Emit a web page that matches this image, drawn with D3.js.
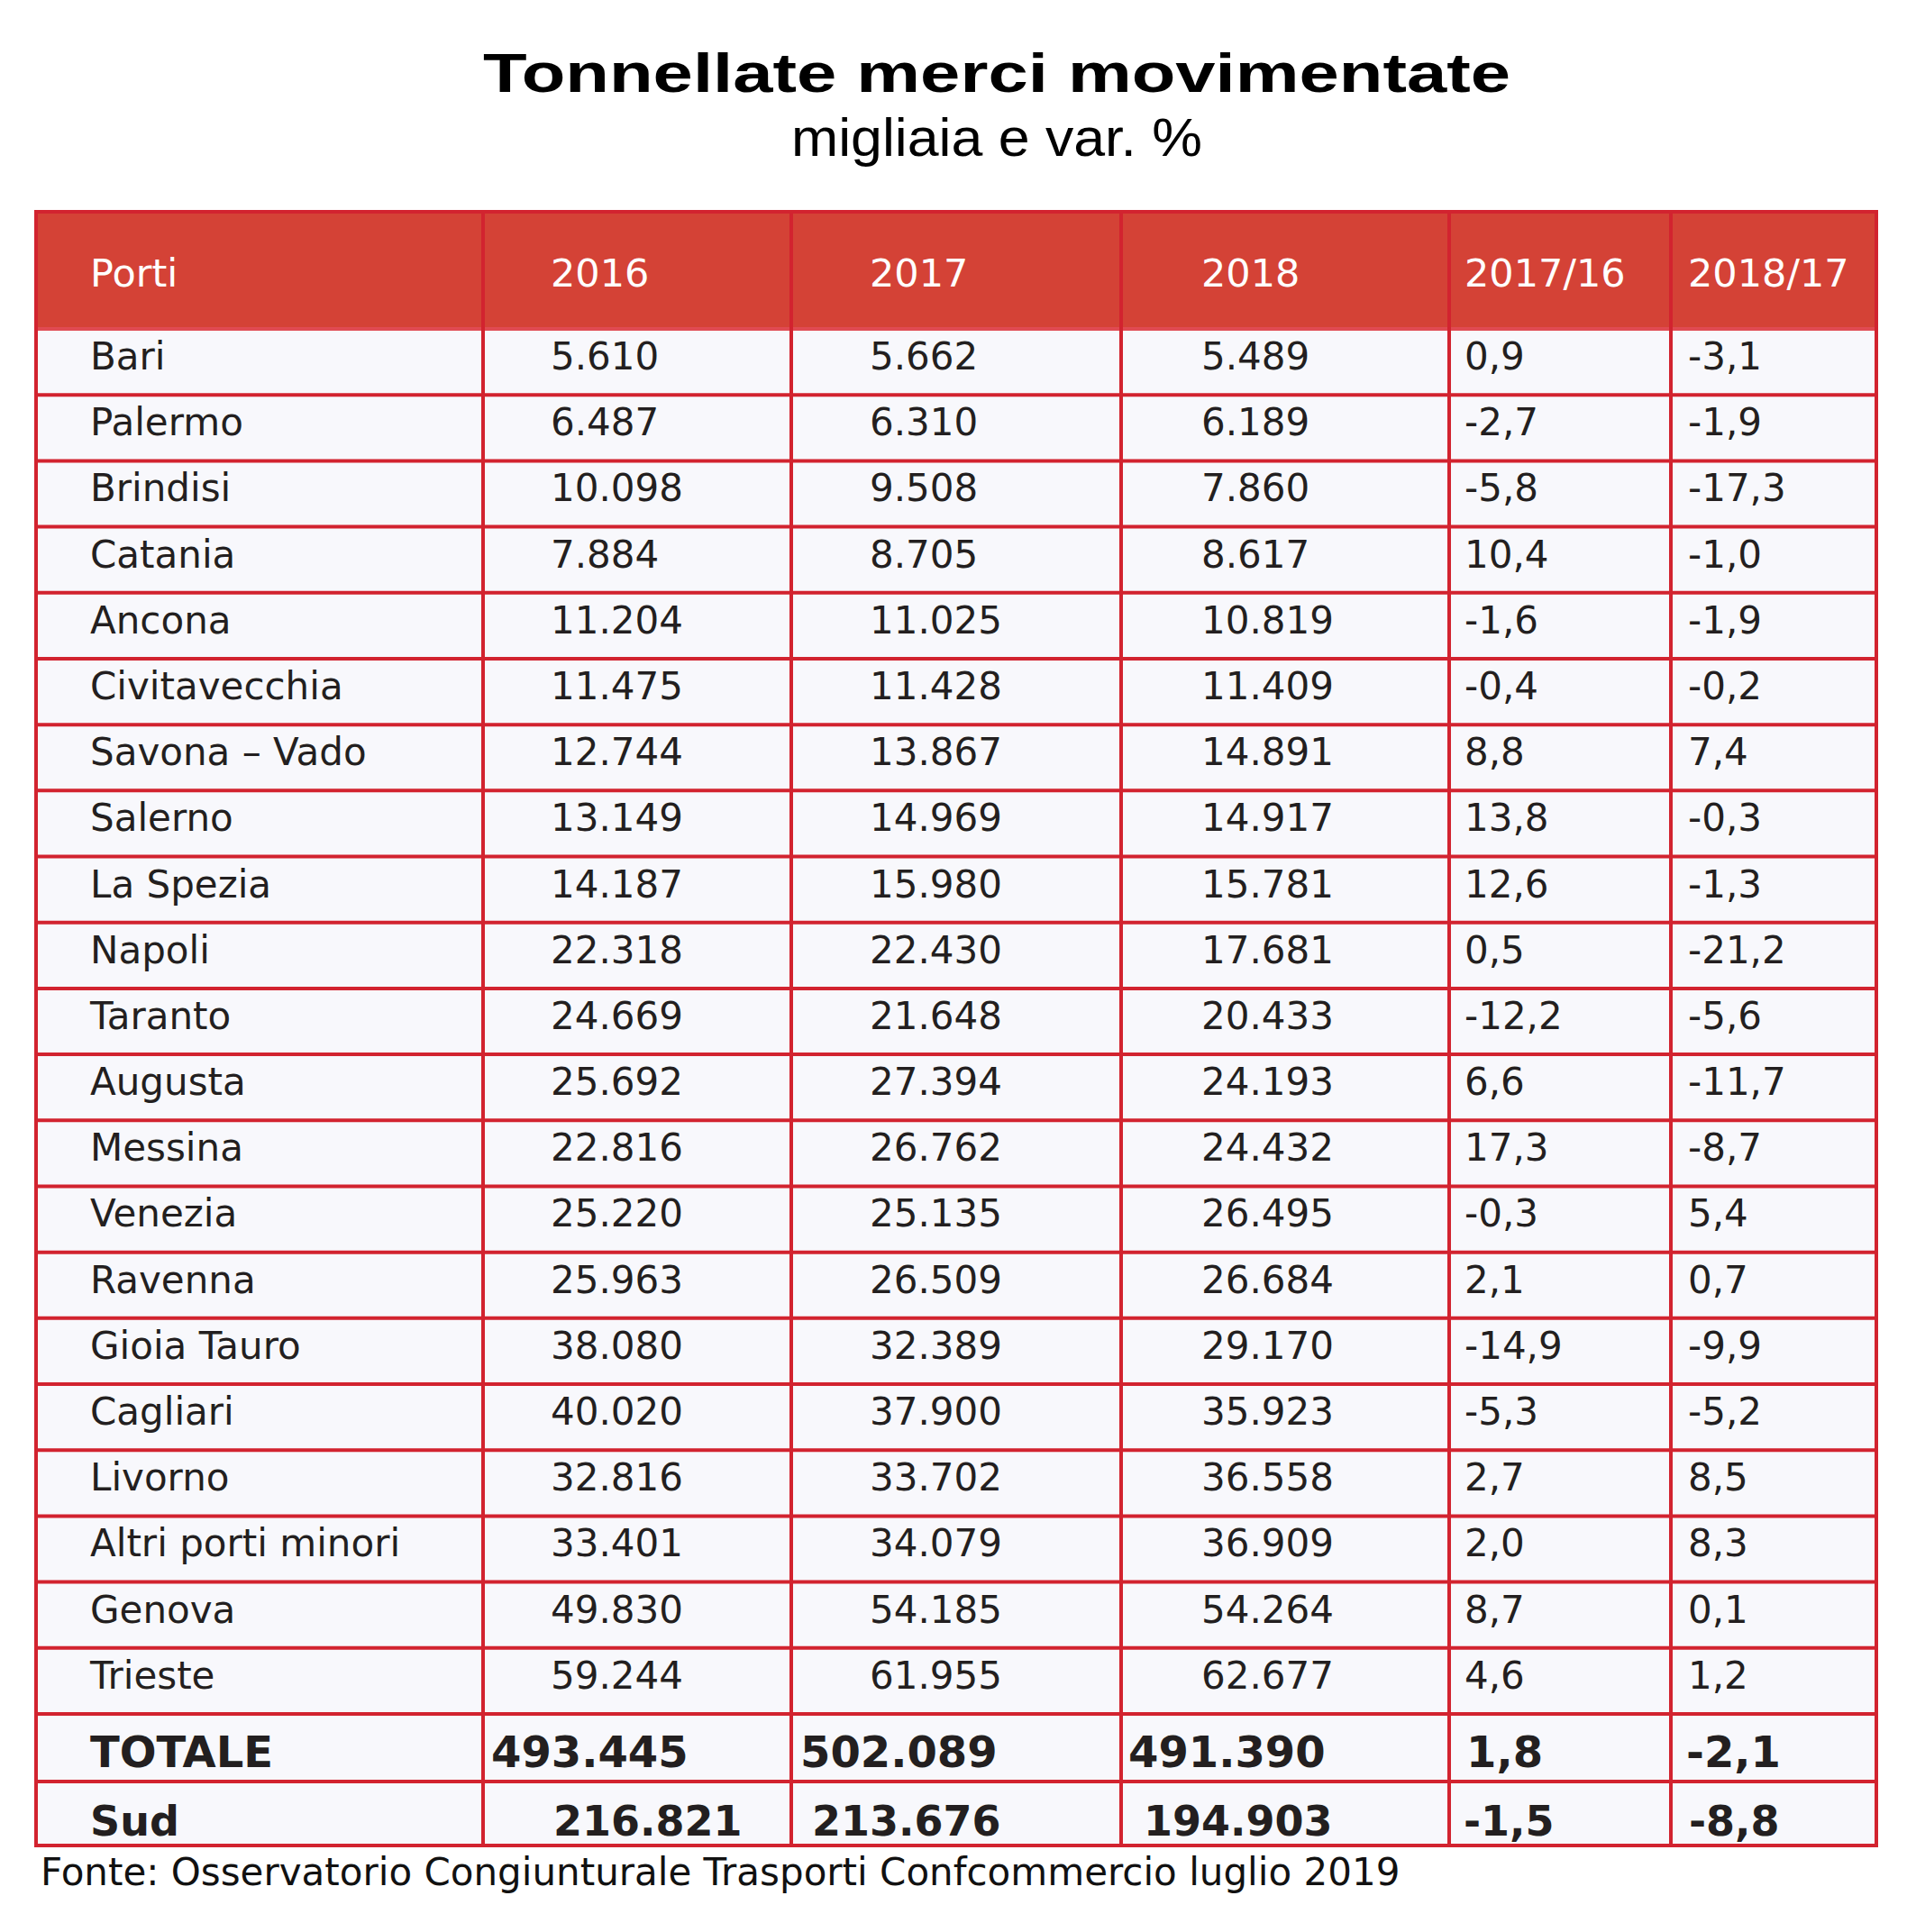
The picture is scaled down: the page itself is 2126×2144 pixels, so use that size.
<!DOCTYPE html>
<html>
<head>
<meta charset="utf-8">
<script src="https://cdn.jsdelivr.net/npm/d3@7"></script>
<style>
  html, body { margin: 0; padding: 0; background: #ffffff; }
  svg { display: block; }
</style>
</head>
<body>
<svg id="chart" width="2126" height="2144"></svg>
<script>
// ---------------- DATA ----------------
const columns = ["Porti", "2016", "2017", "2018", "2017/16", "2018/17"];
const ports = ["Bari", "Palermo", "Brindisi", "Catania", "Ancona", "Civitavecchia",
  "Savona – Vado", "Salerno", "La Spezia", "Napoli", "Taranto", "Augusta", "Messina",
  "Venezia", "Ravenna", "Gioia Tauro", "Cagliari", "Livorno", "Altri porti minori",
  "Genova", "Trieste"];
const tons2016 = [5610, 6487, 10098, 7884, 11204, 11475, 12744, 13149, 14187, 22318,
  24669, 25692, 22816, 25220, 25963, 38080, 40020, 32816, 33401, 49830, 59244];
const tons2017 = [5662, 6310, 9508, 8705, 11025, 11428, 13867, 14969, 15980, 22430,
  21648, 27394, 26762, 25135, 26509, 32389, 37900, 33702, 34079, 54185, 61955];
const tons2018 = [5489, 6189, 7860, 8617, 10819, 11409, 14891, 14917, 15781, 17681,
  20433, 24193, 24432, 26495, 26684, 29170, 35923, 36558, 36909, 54264, 62677];
const var1716 = [0.9, -2.7, -5.8, 10.4, -1.6, -0.4, 8.8, 13.8, 12.6, 0.5, -12.2, 6.6,
  17.3, -0.3, 2.1, -14.9, -5.3, 2.7, 2.0, 8.7, 4.6];
const var1817 = [-3.1, -1.9, -17.3, -1.0, -1.9, -0.2, 7.4, -0.3, -1.3, -21.2, -5.6,
  -11.7, -8.7, 5.4, 0.7, -9.9, -5.2, 8.5, 8.3, 0.1, 1.2];
const summaryLabels = ["TOTALE", "Sud"];
const summary2016 = [493445, 216821];
const summary2017 = [502089, 213676];
const summary2018 = [491390, 194903];
const summaryVar1716 = [1.8, -1.5];
const summaryVar1817 = [-2.1, -8.8];

const titleText = "Tonnellate merci movimentate";
const subtitleText = "migliaia e var. %";
const sourceText = "Fonte: Osservatorio Congiunturale Trasporti Confcommercio luglio 2019";

// ---------------- FORMAT ----------------
const it = d3.formatLocale({ decimal: ",", thousands: ".", grouping: [3], currency: ["", " €"], minus: "-" });
const fmtInt = it.format(",d");
const fmtVar = it.format(".1f");

// ---------------- LAYOUT ----------------
const svg = d3.select("#chart");
const RED_FILL = "#d44236";
const LINE = "#d2232f";
const CELL_BG = "#f8f8fc";
const INK = "#231f20";

const colEdges = [40, 536, 878, 1244, 1608, 1854, 2082];
const colPad = [60, 75, 87, 89, 17, 19];
const tableTop = 235, headerBottom = 365, bodyBottom = 1902;
const summaryEdges = [1902, 1977, 2048];

const y = d3.scaleBand().domain(ports).range([headerBottom, bodyBottom]);
const colX = i => colEdges[i] + colPad[i];

// background
svg.append("rect").attr("x", colEdges[0]).attr("y", headerBottom)
  .attr("width", colEdges[6] - colEdges[0]).attr("height", summaryEdges[2] - headerBottom)
  .attr("fill", CELL_BG);
svg.append("rect").attr("x", colEdges[0]).attr("y", tableTop)
  .attr("width", colEdges[6] - colEdges[0]).attr("height", headerBottom - tableTop)
  .attr("fill", RED_FILL);

// Title
svg.append("text").attr("x", 1106).attr("y", 102)
  .attr("text-anchor", "middle")
  .attr("font-family", "'Liberation Sans', Arial, sans-serif")
  .attr("font-weight", "bold").attr("font-size", 61)
  .attr("textLength", 1140).attr("lengthAdjust", "spacingAndGlyphs")
  .attr("fill", "#000").text(titleText);
svg.append("text").attr("x", 1106).attr("y", 173)
  .attr("text-anchor", "middle")
  .attr("font-family", "'Liberation Sans', Arial, sans-serif")
  .attr("font-size", 60)
  .attr("textLength", 456).attr("lengthAdjust", "spacingAndGlyphs")
  .attr("fill", "#000").text(subtitleText);

// Header
svg.append("g").selectAll("text").data(columns).join("text")
  .attr("x", (d, i) => colX(i)).attr("y", 318)
  .attr("font-family", "'DejaVu Sans', Verdana, sans-serif")
  .attr("font-size", 43).attr("fill", "#ffffff")
  .text(d => d);

// Body rows
const rows = ports.map((p, i) => [p, fmtInt(tons2016[i]), fmtInt(tons2017[i]),
  fmtInt(tons2018[i]), fmtVar(var1716[i]), fmtVar(var1817[i])]);
const body = svg.append("g");
rows.forEach((r, i) => {
  body.append("g").selectAll("text").data(r).join("text")
    .attr("x", (d, j) => colX(j))
    .attr("y", y(ports[i]) + 45)
    .attr("font-family", "'DejaVu Sans', Verdana, sans-serif")
    .attr("font-size", 42).attr("fill", INK)
    .text(d => d);
});

// Summary rows (bold)
const summaryX = [
  [100, 545, 888, 1252, 1627, 1871],
  [100, 614, 901, 1269, 1624, 1874]
];
const summaryBaseline = [1961, 2037];
const summarySize = [48, 46];
summaryLabels.forEach((lab, i) => {
  const r = [lab, fmtInt(summary2016[i]), fmtInt(summary2017[i]), fmtInt(summary2018[i]),
    fmtVar(summaryVar1716[i]), fmtVar(summaryVar1817[i])];
  svg.append("g").selectAll("text").data(r).join("text")
    .attr("x", (d, j) => summaryX[i][j])
    .attr("y", summaryBaseline[i])
    .attr("font-family", "'DejaVu Sans', Verdana, sans-serif")
    .attr("font-weight", "bold").attr("font-size", summarySize[i]).attr("fill", INK)
    .text(d => d);
});

// Grid lines
const hLines = [tableTop].concat(ports.map(p => y(p)), [bodyBottom], summaryEdges.slice(1));
svg.append("g").selectAll("line").data(hLines).join("line")
  .attr("x1", colEdges[0]).attr("x2", colEdges[6])
  .attr("y1", d => d).attr("y2", d => d)
  .attr("stroke", (d, i) => i === 1 ? "#e04a52" : LINE)
  .attr("stroke-width", 4);
svg.append("g").selectAll("line").data(colEdges).join("line")
  .attr("x1", d => d).attr("x2", d => d)
  .attr("y1", tableTop - 2).attr("y2", summaryEdges[2] + 2)
  .attr("stroke", LINE).attr("stroke-width", 4);

// Source
svg.append("text").attr("x", 45).attr("y", 2092)
  .attr("font-family", "'DejaVu Sans', Verdana, sans-serif")
  .attr("font-size", 42).attr("fill", "#111")
  .text(sourceText);
</script>
</body>
</html>
